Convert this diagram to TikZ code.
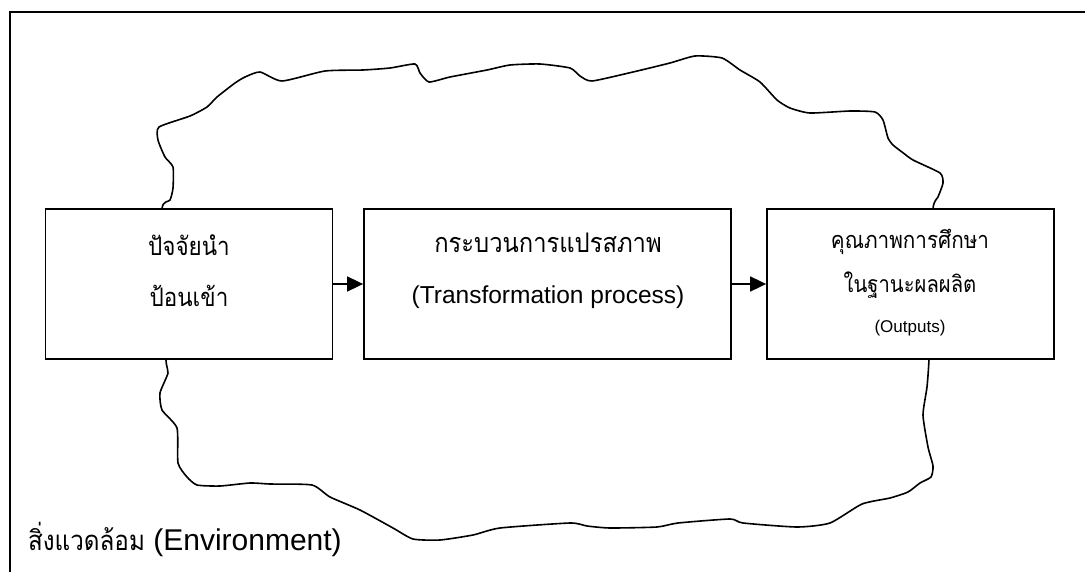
\documentclass[tikz,border=0pt]{standalone}
\usepackage{fontspec}
\setmainfont{Liberation Sans}
\newfontfamily\thaifont[Script=Thai, FakeStretch=0.88]{Loma}
\usetikzlibrary{arrows.meta}
\tikzset{
  boxnode/.style={draw, line width=1.8pt, fill=white, minimum width=287pt, minimum height=150pt, inner sep=0pt},
  flowarrow/.style={line width=1.8pt, -{Triangle[length=16pt,width=15pt]}},
  bigtxt/.style={font=\fontsize{24.5}{28}\selectfont, inner sep=0pt, anchor=center},
  thaitxt/.style={font=\thaifont\fontsize{25}{30}\selectfont, inner sep=0pt, anchor=center},
  smalltxt/.style={font=\fontsize{17}{20}\selectfont, inner sep=0pt, anchor=center},
  cloudline/.style={line width=1.6pt, line join=round}
}
\begin{document}
\begin{tikzpicture}[x=1pt,y=-1pt]
\useasboundingbox (0,0) rectangle (1085,571);
% outer frame (only top and left visible)
\draw[line width=2pt] (1090,12) -- (10,12) -- (10,580);
% environment cloud
\draw[cloudline] plot[smooth cycle, tension=0.35] coordinates {
(162,209) (170,200) (173,188) (173,167) (165,157) (158,140) (159,127) (190,116)
(207,107) (217,97) (235,83) (245,77) (260,72) (282,81) (325,71) (363,70) (390,68)
(415,64) (420,73) (429,82) (450,77) (487,70) (510,65) (540,64) (570,68) (580,76)
(592,81) (633,72) (670,63) (695,56) (722,58) (740,70) (760,82) (777,100) (790,108)
(810,113) (850,111) (875,112) (883,120) (888,138) (893,145) (902,152) (913,160)
(940,173) (943,183) (938,197) (933,209) (931,290) (929,359) (927,387) (923,415)
(928,447) (933,466) (931,477) (920,483) (908,492) (890,498) (862,504) (830,523)
(797,527) (743,523) (730,519) (678,523) (657,527) (610,528) (587,526) (570,523)
(500,528) (473,535) (440,540) (413,539) (393,528) (360,510) (330,497) (312,485)
(270,484) (250,483) (220,486) (197,485) (187,477) (178,463) (177,428) (162,410)
(160,393) (168,373) (166,360) (164,290)};
% boxes
\node[boxnode] (input) at (189,284) {};
\node[boxnode, minimum width=367pt] (process) at (547.5,284) {};
\node[boxnode] (output) at (910.5,284) {};
% arrows
\draw[flowarrow] (input.east) -- (process.west);
\draw[flowarrow] (process.east) -- (output.west);
% texts
\node[thaitxt, font=\thaifont\fontsize{25.5}{30}\selectfont] (t1) at (189,245) {ปัจจัยนำ};
\node[thaitxt, font=\thaifont\fontsize{25.5}{30}\selectfont] (t2) at (189,296) {ป้อนเข้า};
\node[thaitxt, font=\thaifont\fontsize{27}{30}\selectfont] (t3) at (548,243) {กระบวนการแปรสภาพ};
\node[bigtxt] (t4) at (548,297) {(Transformation process)};
\node[thaitxt, font=\thaifont\fontsize{23.5}{26}\selectfont] (t5) at (910,242) {คุณภาพการศึกษา};
\node[thaitxt, font=\thaifont\fontsize{23}{26}\selectfont] (t6) at (910,285) {ในฐานะผลผลิต};
\node[smalltxt] (t7) at (910,328) {(Outputs)};
\node[anchor=base west, inner sep=0pt, font=\fontsize{30}{34}\selectfont] (env) at (28,550) {{\thaifont\fontsize{27.5}{30}\selectfont สิ่งแวดล้อม} (Environment)};
\end{tikzpicture}
\end{document}
